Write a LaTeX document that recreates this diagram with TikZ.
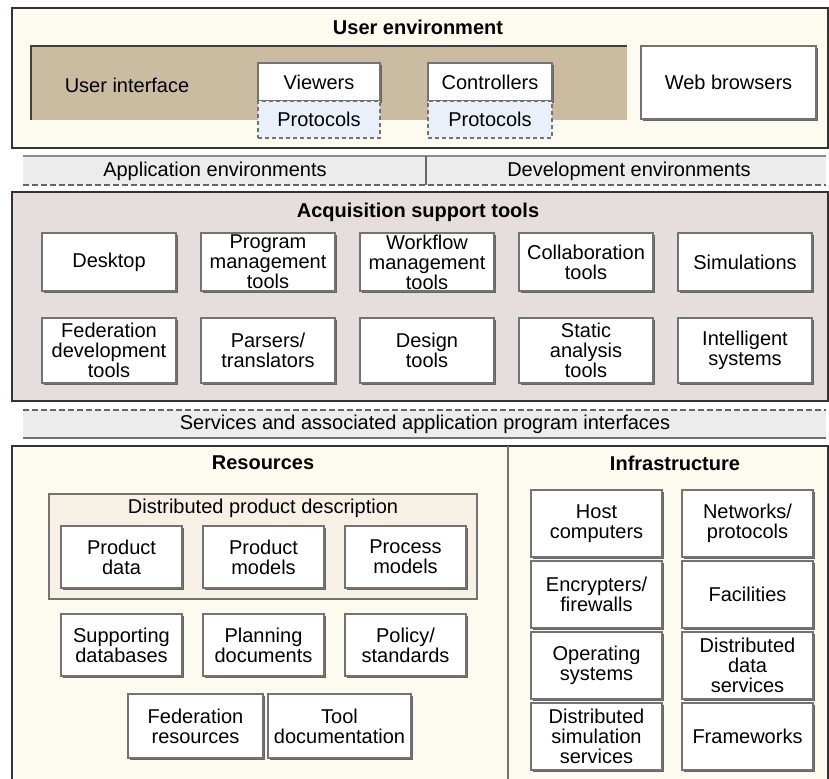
\documentclass[tikz,border=0pt]{standalone}
\usepackage{fontspec}
\setmainfont{Liberation Sans}
\usetikzlibrary{positioning,shadows}
\definecolor{envCream}{RGB}{253,251,239}
\definecolor{uiTan}{RGB}{203,187,160}
\definecolor{acqMauve}{RGB}{230,222,222}
\definecolor{stripGray}{RGB}{236,236,236}
\definecolor{protoBlue}{RGB}{233,240,249}
\definecolor{dpdPeach}{RGB}{247,240,229}

\begin{document}
\begin{tikzpicture}[
        x=0.5pt, y=-0.5pt,
        node distance=12.5pt,
        frame/.style={draw=black!80, line width=0.8pt},
        heading/.style={font=\fontsize{10}{10}\selectfont\bfseries},
        plaintext/.style={font=\fontsize{10}{10}\selectfont, align=center},
        toolbox/.style={rectangle, draw=black!55, line width=0.6pt, fill=white, align=center, inner sep=0.5pt, outer sep=0pt, font=\fontsize{10}{10}\selectfont, drop shadow={shadow xshift=1pt, shadow yshift=-1pt, fill=black!60, opacity=1}},
        protobox/.style={rectangle, draw=black!55, dash pattern=on 2pt off 1.5pt, line width=0.6pt, fill=protoBlue, inner sep=0.5pt, outer sep=0pt, minimum height=18.5pt, font=\fontsize{10}{10}\selectfont},
        acqbox/.style={toolbox, minimum width=67pt},
        resbox/.style={toolbox, minimum width=60.5pt, minimum height=31pt},
        infbox/.style={toolbox, minimum width=65.5pt, minimum height=33.5pt}
    ]
        \useasboundingbox (0,0) rectangle (829,779);

        % User environment
        \draw[frame, fill=envCream] (12,8) rectangle (828,148);
        \node[heading] (userenv) at (418,27) {User environment};
        \fill[uiTan] (31,46) rectangle (627,120);
        \draw[black!75, line width=1pt] (31,120) |- (627,46);
        \node[plaintext] (ui) at (127,85) {User interface};
        \node[toolbox, anchor=north west, minimum width=61pt, minimum height=19pt] (viewers) at (258,63) {Viewers};
        \node[protobox, below=0pt of viewers, minimum width=61pt] (proto1) {Protocols};
        \node[toolbox, anchor=north west, minimum width=62pt, minimum height=19pt] (controllers) at (428,63) {Controllers};
        \node[protobox, below=0pt of controllers, minimum width=62pt] (proto2) {Protocols};
        \node[toolbox, anchor=north west, minimum width=87.5pt, minimum height=36.5pt] (browsers) at (641,46) {Web browsers};

        % Environments strip
        \fill[stripGray] (23,156) rectangle (826,185);
        \draw[black!45, line width=0.7pt] (23,156) -- (826,156);
        \draw[black!60, line width=0.6pt, dash pattern=on 3pt off 1.5pt] (23,185) -- (826,185);
        \draw[black!60, line width=0.6pt] (426,156) -- (426,185);
        \node[plaintext] (appenv) at (215,171) {Application environments};
        \node[plaintext] (devenv) at (629,171) {Development environments};

        % Acquisition support tools
        \draw[frame, fill=acqMauve] (12,192) rectangle (828,401);
        \node[heading] (acq) at (418,212) {Acquisition support tools};
        \node[acqbox, anchor=north west, minimum height=29pt] (desktop) at (42,233) {Desktop};
        \node[acqbox, right=of desktop, minimum height=29pt] (progmgmt) {Program\\management\\tools};
        \node[acqbox, right=of progmgmt, minimum height=29pt] (wfmgmt) {Workflow\\management\\tools};
        \node[acqbox, right=of wfmgmt, minimum height=29pt] (collab) {Collaboration\\tools};
        \node[acqbox, right=of collab, minimum height=29pt] (sims) {Simulations};
        \node[acqbox, anchor=north west, minimum height=32.5pt] (feddev) at (42,318) {Federation\\development\\tools};
        \node[acqbox, right=of feddev, minimum height=32.5pt] (parsers) {Parsers/\\translators};
        \node[acqbox, right=of parsers, minimum height=32.5pt] (design) {Design\\tools};
        \node[acqbox, right=of design, minimum height=32.5pt] (static) {Static\\analysis\\tools};
        \node[acqbox, right=of static, minimum height=32.5pt] (intel) {Intelligent\\systems};

        % Services strip
        \fill[stripGray] (23,410) rectangle (826,438);
        \draw[black!60, line width=0.6pt, dash pattern=on 3pt off 1.5pt] (23,410) -- (826,410);
        \draw[black!55, line width=0.7pt] (23,438) -- (826,438);
        \node[plaintext] (services) at (425,424) {Services and associated application program interfaces};

        % Resources and infrastructure
        \fill[envCream] (12,446) rectangle (828,779);
        \draw[frame] (12,779) -- (12,446) -- (828,446) -- (828,779);
        \draw[black!55, line width=0.7pt] (508,446) -- (508,779);
        \node[heading] (res) at (263,463) {Resources};
        \node[heading] (infra) at (675,463) {Infrastructure};

        % Resources
        \draw[black!55, line width=0.6pt, fill=dpdPeach] (49,494) rectangle (477,599);
        \node[plaintext] (dpd) at (263,508) {Distributed product description};
        \node[resbox, anchor=north west] (proddata) at (61,526) {Product\\data};
        \node[resbox, right=10.5pt of proddata] (prodmodels) {Product\\models};
        \node[resbox, right=10.5pt of prodmodels] (procmodels) {Process\\models};
        \node[resbox, anchor=north west] (suppdb) at (61,614) {Supporting\\databases};
        \node[resbox, right=10.5pt of suppdb] (plandocs) {Planning\\documents};
        \node[resbox, right=10.5pt of plandocs] (policy) {Policy/\\standards};
        \node[toolbox, anchor=north west, minimum width=67.5pt, minimum height=32pt] (fedres) at (128,694) {Federation\\resources};
        \node[toolbox, right=2.5pt of fedres, minimum width=71.5pt, minimum height=32pt] (tooldoc) {Tool\\documentation};

        % Infrastructure
        \node[infbox, anchor=north west] (host) at (531,490) {Host\\computers};
        \node[infbox, right=10pt of host] (networks) {Networks/\\protocols};
        \node[infbox, below=2pt of host] (encrypt) {Encrypters/\\firewalls};
        \node[infbox, below=2pt of networks] (facilities) {Facilities};
        \node[infbox, below=2pt of encrypt] (opsys) {Operating\\systems};
        \node[infbox, below=2pt of facilities] (distdata) {Distributed\\data\\services};
        \node[infbox, below=2pt of opsys] (distsim) {Distributed\\simulation\\services};
        \node[infbox, below=2pt of distdata] (frameworks) {Frameworks};

    \end{tikzpicture}
\end{document}
